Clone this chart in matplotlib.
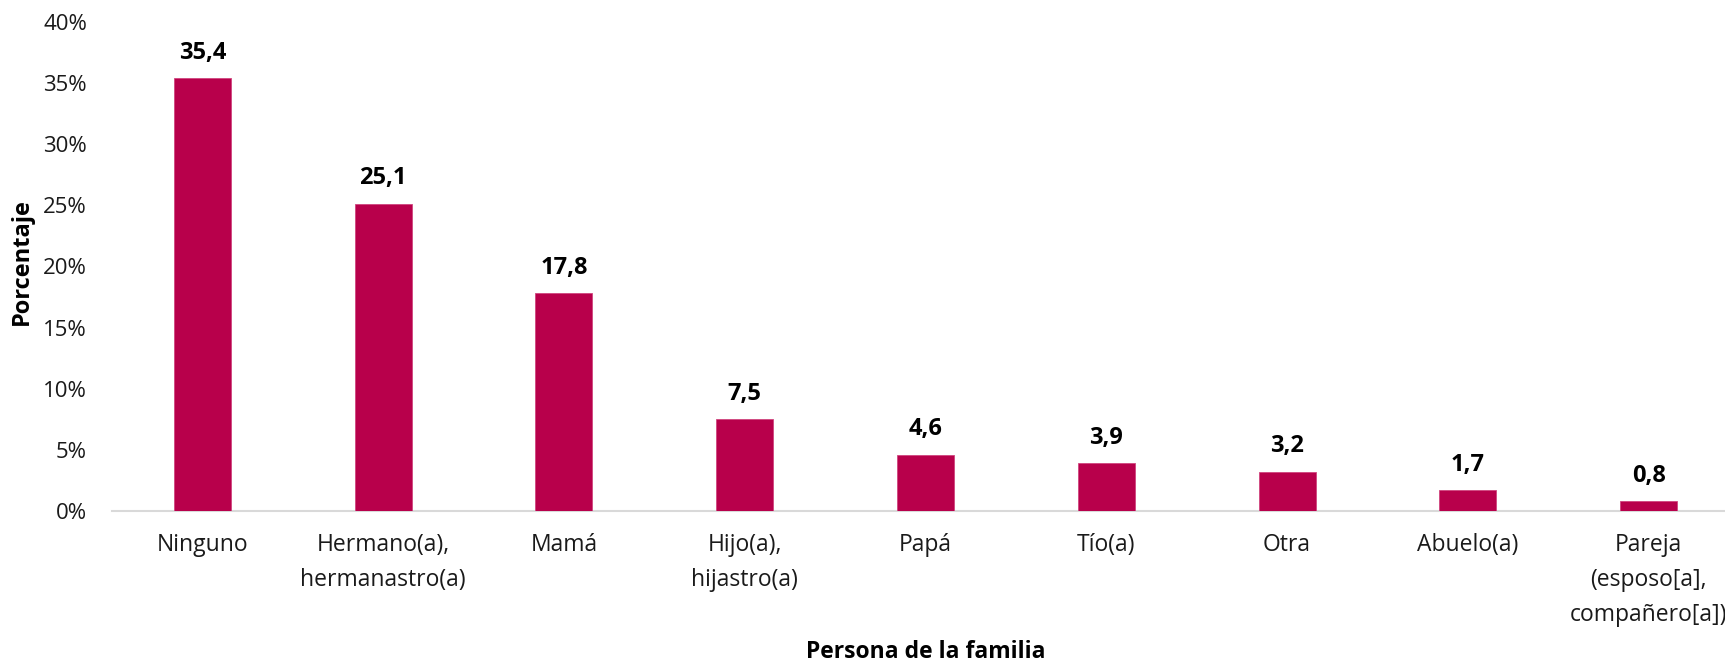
import matplotlib.pyplot as plt
from matplotlib.ticker import FuncFormatter

# Datos
categorias = ["Ninguno", "Hermano(a),\nhermanastro(a)", "Mamá", "Hijo(a),\nhijastro(a)",
              "Papá", "Tío(a)", "Otra", "Abuelo(a)",
              "Pareja\n(esposo[a],\ncompañero[a])"]
valores = [35.4, 25.1, 17.8, 7.5, 4.6, 3.9, 3.2, 1.7, 0.8]
etiquetas = ["35,4", "25,1", "17,8", "7,5", "4,6", "3,9", "3,2", "1,7", "0,8"]

BAR_COLOR = "#B8004B"
plt.rcParams['font.family'] = ['Open Sans', 'DejaVu Sans']

W, H = 1725, 661
fig = plt.figure(figsize=(W / 100, H / 100), dpi=100, facecolor='white')
left, right = 112 / W, 1739 / W
bottom, top = 1 - 511 / H, 1 - 22 / H
ax = fig.add_axes([left, bottom, right - left, top - bottom])
ax_w = W * (right - left)
ax_h = H * (top - bottom)

x = range(len(categorias))
ax.bar(x, valores, width=0.315, color=BAR_COLOR, edgecolor='#D0457E', linewidth=0.6, zorder=3)

for xi, v, lab in zip(x, valores, etiquetas):
    ax.annotate(lab, (xi, v), xytext=(0, 18.5), textcoords='offset points',
                ha='center', va='center', fontsize=17, fontweight='bold', color='black')

ax.set_xlim(-0.5, len(categorias) - 0.5)
ax.set_ylim(0, 40)
ax.set_yticks(range(0, 41, 5))
ax.yaxis.set_major_formatter(FuncFormatter(lambda v, p: f"{int(v)}%"))
ax.set_xticks(list(x))
ax.set_xticklabels(categorias, fontsize=16.5, linespacing=1.6)

ax.tick_params(axis='y', length=0, labelsize=16, pad=18, colors='#1a1a1a')
ax.tick_params(axis='x', length=0, pad=16, colors='#1a1a1a')

for s in ['top', 'right', 'left']:
    ax.spines[s].set_visible(False)
ax.spines['bottom'].set_color('#D9D9D9')
ax.spines['bottom'].set_linewidth(1.5)

ax.set_ylabel("Porcentaje", fontsize=17, fontweight='bold')
ax.yaxis.set_label_coords((22 - 112) / ax_w, 0.51)
ax.set_xlabel("Persona de la familia", fontsize=16.5, fontweight='bold')
ax.xaxis.set_label_coords(0.5, -(652 - 511) / ax_h)
ax.xaxis.label.set_va('center')
ax.yaxis.label.set_va('center')

plt.savefig("out.png", dpi=100, facecolor='white')
